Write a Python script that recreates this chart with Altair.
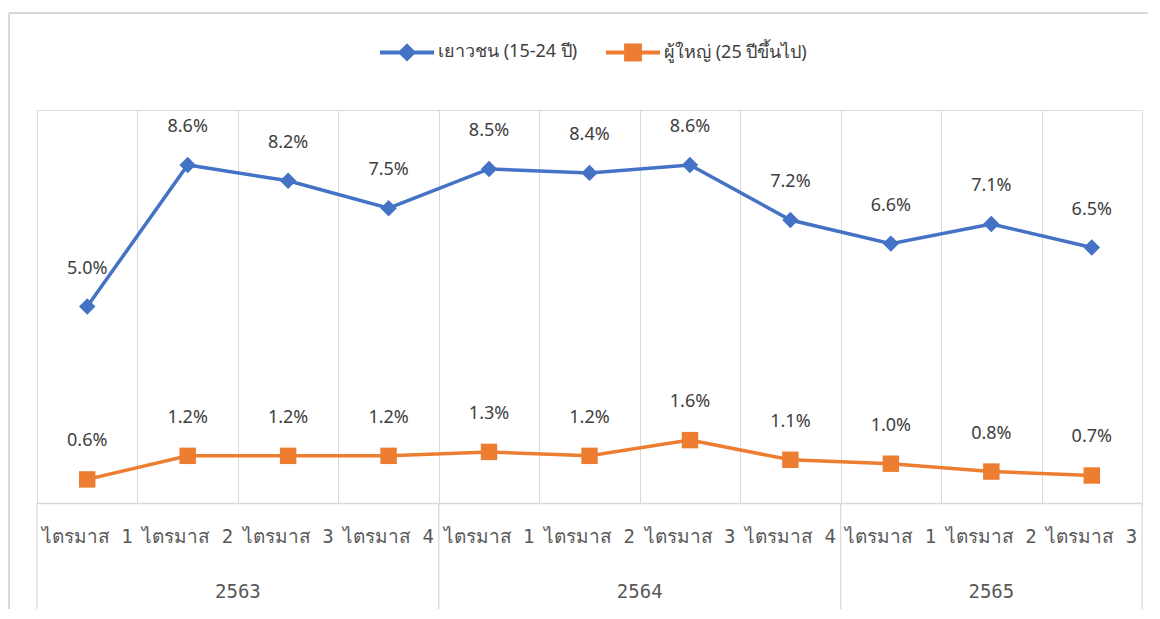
import altair as alt
import pandas as pd

quarters = ["ไตรมาส 1", "ไตรมาส 2", "ไตรมาส 3", "ไตรมาส 4",
            "ไตรมาส 1", "ไตรมาส 2", "ไตรมาส 3", "ไตรมาส 4",
            "ไตรมาส 1", "ไตรมาส 2", "ไตรมาส 3"]
years = ["2563", "2563", "2563", "2563",
         "2564", "2564", "2564", "2564",
         "2565", "2565", "2565"]
youth = [5.0, 8.6, 8.2, 7.5, 8.5, 8.4, 8.6, 7.2, 6.6, 7.1, 6.5]
adult = [0.6, 1.2, 1.2, 1.2, 1.3, 1.2, 1.6, 1.1, 1.0, 0.8, 0.7]
series_names = ["เยาวชน (15-24 ปี)", "ผู้ใหญ่ (25 ปีขึ้นไป)"]
colors = ["#4472C4", "#ED7D31"]

n = len(quarters)
rows = []
for name, vals in zip(series_names, [youth, adult]):
    for i, v in enumerate(vals):
        rows.append({"series": name, "pos": i + 0.5, "value": v,
                     "label": f"{v:.1f}%"})
df = pd.DataFrame(rows)

qdf = pd.DataFrame({"pos": [i + 0.5 for i in range(n)], "q": quarters})

year_list = []
for yv in years:
    if yv not in year_list:
        year_list.append(yv)
bounds = [0]
centers = []
for yv in year_list:
    c = years.count(yv)
    centers.append(bounds[-1] + c / 2)
    bounds.append(bounds[-1] + c)
ydf = pd.DataFrame({"pos": centers, "year": year_list})
bdf = pd.DataFrame({"b": bounds})

W, H = 1105, 393
FONT = "Noto Sans"
AXFONT = "DejaVu Sans Mono, Noto Sans"
GRID = "#d9d9d9"

x = alt.X("pos:Q", scale=alt.Scale(domain=[0, n], nice=False, zero=False),
          axis=alt.Axis(values=list(range(n + 1)), labels=False, ticks=False,
                        title=None, grid=True, gridColor=GRID,
                        domainColor=GRID, domainWidth=1.3))
y = alt.Y("value:Q", scale=alt.Scale(domain=[0, 10], nice=False), axis=None)

LINE_BAR = "M-1,-0.075 H1 V0.075 H-1 Z "
legend_paths = [LINE_BAR + "M0,-0.34 L0.34,0 L0,0.34 L-0.34,0 Z",
                LINE_BAR + "M-0.33,-0.33 H0.33 V0.33 H-0.33 Z"]

cscale = alt.Scale(domain=series_names, range=colors)

base = alt.Chart(df)

legend_layer = base.transform_filter("false").mark_point(
    filled=True, opacity=1).encode(
    x=x, y=y,
    color=alt.Color("series:N", scale=cscale, legend=alt.Legend(
        orient="none", legendX=343, legendY=-85, title=None,
        direction="horizontal",
        labelFont=FONT, labelFontSize=18, labelColor="#404040",
        symbolSize=2916, symbolStrokeWidth=0, symbolOpacity=1,
        columnPadding=28, labelOffset=4)),
    shape=alt.Shape("series:N", scale=alt.Scale(domain=series_names,
                                                range=legend_paths)),
)

lines = base.mark_line(strokeWidth=3.5).encode(
    x="pos:Q", y="value:Q", color=alt.Color("series:N", legend=None))

pts_youth = base.transform_filter(
    alt.datum.series == series_names[0]).mark_point(
    filled=True, size=270, opacity=1, shape="diamond").encode(
    x="pos:Q", y="value:Q", color=alt.Color("series:N", legend=None))
pts_adult = base.transform_filter(
    alt.datum.series == series_names[1]).mark_point(
    filled=True, size=270, opacity=1, shape="square").encode(
    x="pos:Q", y="value:Q", color=alt.Color("series:N", legend=None))

labels = base.mark_text(dy=-38, font=FONT, fontSize=18, color="#404040").encode(
    x="pos:Q", y="value:Q", text="label:N")

qlabels = alt.Chart(qdf).mark_text(font=AXFONT, fontSize=19, color="#595959").encode(
    x="pos:Q", y=alt.value(427), text="q:N")
ylabels = alt.Chart(ydf).mark_text(font=AXFONT, fontSize=19, color="#595959").encode(
    x="pos:Q", y=alt.value(482), text="year:N")
dividers = alt.Chart(bdf).mark_rule(color=GRID, strokeWidth=1.3).encode(
    x="b:Q", y=alt.value(H), y2=alt.value(510))

frame_top = alt.Chart(bdf).mark_rule(color=GRID, strokeWidth=2).encode(
    x=alt.value(-28), x2=alt.value(W + 10), y=alt.value(-97))
frame_left = alt.Chart(bdf).mark_rule(color=GRID, strokeWidth=2).encode(
    x=alt.value(-28), y=alt.value(-97), y2=alt.value(510))

chart = alt.layer(frame_top, frame_left, legend_layer, dividers, lines,
                  pts_youth, pts_adult, labels, qlabels, ylabels).properties(
    width=W, height=H,
    autosize=alt.AutoSizeParams(type="none"),
    padding={"left": 29, "top": 102, "right": 6, "bottom": 106},
).configure_view(stroke=None).configure(background="white")

chart.save("out.html", embed_options={"renderer": "svg", "actions": False})
